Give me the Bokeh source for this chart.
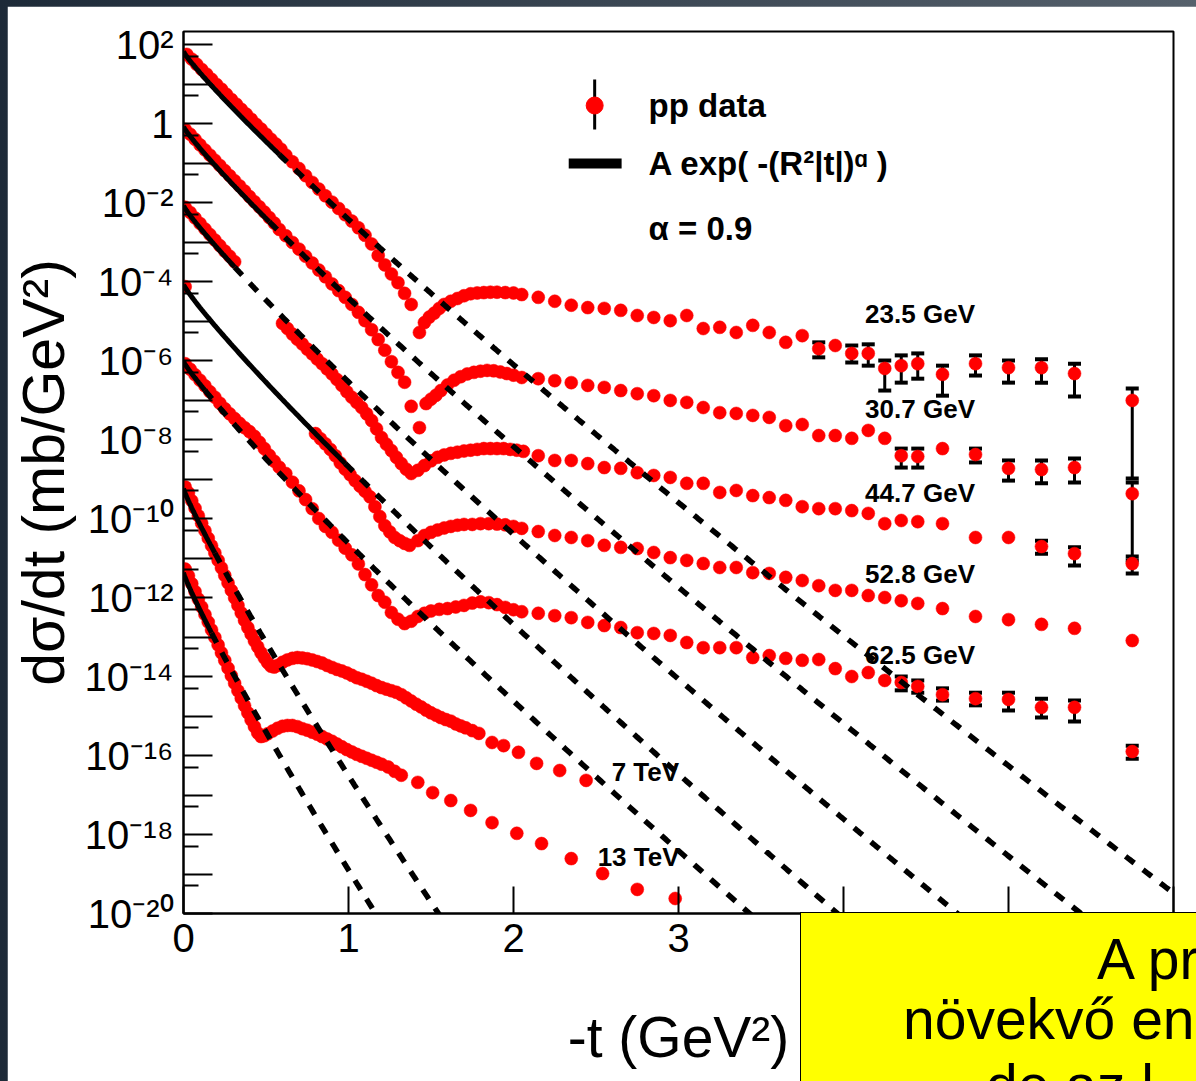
import numpy as np
from bokeh.plotting import figure
from bokeh.models import (ColumnDataSource, Range1d, FixedTicker, CustomJSTickFormatter,
                          Label, Whisker, TeeHead, Div)
from bokeh.layouts import column
from bokeh.embed import file_html
from bokeh.resources import INLINE

# ---------------------------------------------------------------------------
# pp elastic dσ/dt.  Every energy is shifted by a further factor 1e-2
# (ISR: 1, 1e-2, 1e-4, 1e-6, 1e-8; LHC: 1e-12, 1e-14).  Values are stored as
# log10 of the plotted (shifted) cross section in mb/GeV².
# ---------------------------------------------------------------------------
energy_labels = ["23.5 GeV", "30.7 GeV", "44.7 GeV", "52.8 GeV", "62.5 GeV", "7 TeV", "13 TeV"]

# large-|t| points shared by the five ISR energies
t_isr_tail = [2.15, 2.25, 2.35, 2.45, 2.55, 2.65, 2.75, 2.85, 2.95, 3.05, 3.15, 3.25, 3.35,
              3.45, 3.55, 3.65, 3.75, 3.85, 3.95, 4.05, 4.15, 4.25, 4.35, 4.45,
              4.6, 4.8, 5.0, 5.2, 5.4, 5.75]

# 23.5 GeV
t_235 = [0.02, 0.05, 0.08, 0.11, 0.14, 0.17, 0.20, 0.23, 0.26, 0.29, 0.32, 0.35, 0.38, 0.41,
         0.44, 0.47, 0.50, 0.53, 0.56, 0.59,
         0.62, 0.66, 0.70, 0.74, 0.78, 0.82, 0.86, 0.90, 0.94, 0.98, 1.02, 1.06, 1.10, 1.14,
         1.18, 1.22, 1.26, 1.30, 1.34, 1.38,
         1.43, 1.46, 1.49, 1.52, 1.55, 1.58, 1.62, 1.66, 1.70, 1.74, 1.78, 1.82, 1.86, 1.90,
         1.95, 2.00, 2.05]
lg_235 = [1.75, 1.63, 1.50, 1.37, 1.25, 1.12, 0.99, 0.87, 0.74, 0.61, 0.49, 0.36, 0.24, 0.11,
          -0.02, -0.14, -0.27, -0.40, -0.52, -0.65,
          -0.80, -0.97, -1.14, -1.32, -1.49, -1.66, -1.83, -1.99, -2.15, -2.31, -2.47, -2.64,
          -2.83, -3.05, -3.34, -3.58, -3.81, -4.03, -4.30, -4.58,
          -5.29, -5.04, -4.90, -4.80, -4.68, -4.58, -4.50, -4.43, -4.36, -4.31, -4.29, -4.28,
          -4.27, -4.27, -4.28, -4.29, -4.33]
lg_235_tail = [-4.40, -4.50, -4.60, -4.66, -4.68, -4.73, -4.86, -4.91, -4.99, -4.86, -5.19,
               -5.16, -5.29, -5.11, -5.29, -5.54, -5.37, -5.70, -5.62, -5.82, -5.82, -6.20,
               -6.13, -6.08, -6.35, -6.08, -6.18, -6.18, -6.33, -7.01]
err_t_235 = [3.85, 4.05, 4.15, 4.25, 4.35, 4.45, 4.6, 4.8, 5.0, 5.2, 5.4, 5.75]
err_lo_235 = [-5.92, -6.05, -6.13, -6.76, -6.56, -6.46, -6.89, -6.38, -6.56, -6.56, -6.91, -8.99]
err_hi_235 = [-5.54, -5.62, -5.59, -6.00, -5.87, -5.82, -6.13, -5.87, -6.00, -5.97, -6.08, -6.71]

# 30.7 GeV
t_307 = [0.01, 0.04, 0.07, 0.10, 0.13, 0.16, 0.19, 0.22, 0.25, 0.28, 0.31, 0.34, 0.37, 0.40,
         0.43, 0.46, 0.49, 0.52, 0.55, 0.58,
         0.62, 0.66, 0.70, 0.74, 0.78, 0.82, 0.86, 0.90, 0.94, 0.98, 1.02, 1.06, 1.10, 1.14,
         1.18, 1.22, 1.26, 1.30, 1.34,
         1.38, 1.43,
         1.47, 1.50, 1.53, 1.56, 1.60, 1.64, 1.68, 1.72, 1.76, 1.80, 1.84, 1.88, 1.92, 1.96,
         2.00, 2.05]
lg_307 = [-0.15, -0.27, -0.40, -0.54, -0.67, -0.80, -0.93, -1.06, -1.19, -1.32, -1.45, -1.58,
          -1.71, -1.85, -1.98, -2.11, -2.24, -2.38, -2.52, -2.68,
          -2.84, -3.01, -3.18, -3.36, -3.53, -3.71, -3.88, -4.06, -4.23, -4.40, -4.58, -4.78,
          -4.99, -5.22, -5.47, -5.74, -6.03, -6.30, -6.55,
          -7.16, -7.70,
          -7.09, -6.98, -6.88, -6.76, -6.62, -6.50, -6.41, -6.34, -6.30, -6.27, -6.25, -6.26,
          -6.29, -6.33, -6.37, -6.43]
lg_307_tail = [-6.46, -6.51, -6.56, -6.63, -6.68, -6.76, -6.84, -6.89, -7.01, -7.06, -7.19,
               -7.32, -7.34, -7.39, -7.44, -7.65, -7.62, -7.90, -7.90, -7.97, -7.77, -7.97,
               -8.41, -8.43, -8.23, -8.38, -8.73, -8.76, -8.71, -9.37]
err_t_307 = [4.35, 4.45, 4.8, 5.0, 5.2, 5.4, 5.75]
err_lo_307 = [-8.71, -8.71, -8.58, -9.04, -9.11, -9.09, -11.06]
err_hi_307 = [-8.23, -8.23, -8.23, -8.53, -8.53, -8.48, -9.09]

# 44.7 GeV
t_447 = [0.01, 0.04, 0.07, 0.10, 0.13, 0.16, 0.19, 0.22, 0.25, 0.28, 0.31,
         0.60, 0.63, 0.66, 0.69, 0.72, 0.75, 0.78, 0.81, 0.84, 0.87, 0.90, 0.93, 0.96, 0.99,
         1.02, 1.05, 1.08, 1.11, 1.14, 1.17, 1.20, 1.23, 1.26, 1.29, 1.32, 1.35, 1.38,
         1.42, 1.46, 1.50, 1.54, 1.58, 1.62, 1.66, 1.70, 1.74, 1.78, 1.82, 1.86, 1.90, 1.94,
         1.98, 2.02, 2.06]
lg_447 = [-2.12, -2.25, -2.39, -2.53, -2.67, -2.81, -2.95, -3.09, -3.23, -3.36, -3.50,
          -5.06, -5.19, -5.33, -5.46, -5.58, -5.71, -5.83, -5.96, -6.08, -6.21, -6.34, -6.48,
          -6.63, -6.79, -6.93, -7.06, -7.19, -7.35, -7.52, -7.73, -7.95, -8.12, -8.28, -8.45,
          -8.61, -8.75, -8.86,
          -8.78, -8.66, -8.54, -8.45, -8.39, -8.35, -8.32, -8.29, -8.27, -8.25, -8.23, -8.23,
          -8.23, -8.23, -8.25, -8.27, -8.30]
lg_447_tail = [-8.41, -8.53, -8.53, -8.61, -8.71, -8.73, -8.84, -8.91, -8.96, -9.11, -9.11,
               -9.34, -9.29, -9.42, -9.47, -9.54, -9.70, -9.75, -9.75, -9.80, -9.87, -10.13,
               -10.05, -10.08, -10.13, -10.48, -10.48, -10.71, -10.89, -11.14]
err_t_447 = [5.2, 5.4, 5.75]
err_lo_447 = [-10.89, -11.19, -11.39]
err_hi_447 = [-10.56, -10.73, -10.96]

# 52.8 GeV
t_528 = [0.01,
         0.80, 0.83, 0.86, 0.89, 0.92, 0.95, 0.98, 1.01, 1.04, 1.07, 1.10, 1.13, 1.16, 1.19,
         1.22, 1.25, 1.28, 1.31, 1.34, 1.37,
         1.42, 1.46, 1.50, 1.54, 1.58, 1.62, 1.66, 1.70, 1.75, 1.80, 1.85, 1.90, 1.95, 2.00,
         2.05]
lg_528 = [-4.13,
          -7.85, -7.98, -8.11, -8.25, -8.41, -8.59, -8.75, -8.89, -9.04, -9.18, -9.31, -9.45,
          -9.70, -9.95, -10.18, -10.34, -10.48, -10.56, -10.63, -10.68,
          -10.56, -10.43, -10.35, -10.29, -10.24, -10.20, -10.17, -10.15, -10.15, -10.13,
          -10.13, -10.14, -10.16, -10.20, -10.25]
lg_528_tail = [-10.33, -10.43, -10.48, -10.56, -10.68, -10.73, -10.76, -10.86, -10.99, -11.06,
               -11.14, -11.24, -11.24, -11.37, -11.39, -11.49, -11.57, -11.70, -11.82, -11.82,
               -11.95, -12.00, -12.08, -12.15, -12.28, -12.48, -12.56, -12.68, -12.78, -13.09]
err_t_528 = []
err_lo_528 = []
err_hi_528 = []

# 62.5 GeV
t_625 = [0.01, 0.04, 0.07, 0.10, 0.13, 0.16, 0.19, 0.22, 0.25, 0.28, 0.31, 0.34, 0.37, 0.40,
         0.43, 0.46, 0.49, 0.52, 0.55, 0.58,
         0.62, 0.66, 0.70, 0.74, 0.78, 0.82, 0.86, 0.90, 0.94, 0.98, 1.02, 1.06, 1.10, 1.14,
         1.18, 1.22, 1.26, 1.30, 1.34,
         1.38, 1.42, 1.46, 1.50, 1.55, 1.60, 1.65, 1.70, 1.75, 1.80, 1.85, 1.90, 1.95, 2.00,
         2.05]
lg_625 = [-6.08, -6.22, -6.36, -6.50, -6.64, -6.79, -6.93, -7.08, -7.22, -7.35, -7.47, -7.59,
          -7.70, -7.80, -7.92, -8.07, -8.23, -8.40, -8.55, -8.70,
          -8.86, -9.08, -9.30, -9.52, -9.75, -10.00, -10.20, -10.35, -10.55, -10.75, -10.92,
          -11.15, -11.42, -11.68, -11.95, -12.12, -12.38, -12.55, -12.66,
          -12.60, -12.48, -12.40, -12.34, -12.30, -12.28, -12.24, -12.20, -12.14, -12.11,
          -12.13, -12.18, -12.25, -12.31, -12.36]
lg_625_tail = [-12.40, -12.46, -12.51, -12.63, -12.71, -12.76, -12.89, -12.91, -12.96, -13.14,
               -13.27, -13.27, -13.27, -13.52, -13.47, -13.54, -13.59, -13.57, -13.80, -14.00,
               -13.90, -14.10, -14.15, -14.25, -14.46, -14.56, -14.58, -14.78, -14.78, -15.90]
err_t_625 = [4.35, 4.45, 4.6, 4.8, 5.0, 5.2, 5.4, 5.75]
err_lo_625 = [-14.35, -14.41, -14.61, -14.73, -14.86, -15.04, -15.14, -16.08]
err_hi_625 = [-14.00, -14.10, -14.30, -14.41, -14.41, -14.56, -14.61, -15.75]

# 7 TeV
t_7tev = [0.01, 0.03, 0.05, 0.07, 0.09, 0.11, 0.13, 0.15, 0.17, 0.19, 0.21, 0.23, 0.25, 0.27,
          0.29, 0.31, 0.33, 0.35, 0.37, 0.39, 0.41, 0.43, 0.45, 0.47, 0.49, 0.51, 0.53,
          0.55, 0.57,
          0.60, 0.63, 0.66, 0.69, 0.72, 0.75, 0.78, 0.81, 0.84, 0.87, 0.90, 0.93, 0.96, 0.99,
          1.02, 1.05, 1.08, 1.11, 1.14, 1.17, 1.20, 1.23, 1.26, 1.29, 1.32, 1.35, 1.38, 1.41,
          1.44, 1.47, 1.50, 1.53, 1.56, 1.59, 1.62, 1.65, 1.68, 1.71,
          1.75, 1.79, 1.87, 1.94, 2.03, 2.14, 2.28, 2.44]
lg_7tev = [-9.20, -9.35, -9.55, -9.74, -9.93, -10.12, -10.31, -10.50, -10.69, -10.87, -11.06,
           -11.25, -11.44, -11.63, -11.82, -12.01, -12.20, -12.39, -12.58, -12.76, -12.93,
           -13.10, -13.25, -13.40, -13.53, -13.65, -13.74,
           -13.76, -13.72,
           -13.64, -13.58, -13.54, -13.52, -13.53, -13.55, -13.58, -13.62, -13.66, -13.72,
           -13.77, -13.82, -13.86, -13.91, -13.97, -14.03, -14.07, -14.12, -14.17, -14.23,
           -14.28, -14.32, -14.36, -14.40, -14.46, -14.54, -14.62, -14.70, -14.77, -14.85,
           -14.92, -14.98, -15.04, -15.09, -15.13, -15.20, -15.25, -15.30,
           -15.37, -15.44, -15.67, -15.75, -15.92, -16.20, -16.38, -16.63]

# 13 TeV
t_13tev = [0.01, 0.03, 0.05, 0.07, 0.09, 0.11, 0.13, 0.15, 0.17, 0.19, 0.21, 0.23, 0.25, 0.27,
           0.29, 0.31, 0.33, 0.35, 0.37, 0.39, 0.41, 0.43, 0.45, 0.47,
           0.49, 0.51,
           0.54, 0.57, 0.60, 0.63, 0.66, 0.69, 0.72, 0.75, 0.78, 0.81, 0.84, 0.87, 0.90, 0.93,
           0.96, 0.99, 1.02, 1.05, 1.08, 1.11, 1.14, 1.17, 1.20,
           1.24, 1.28, 1.32,
           1.42, 1.51, 1.62, 1.74, 1.87, 2.02, 2.17, 2.35, 2.54, 2.75, 2.98]
lg_13tev = [-11.28, -11.45, -11.65, -11.85, -12.04, -12.24, -12.43, -12.62, -12.82, -13.01,
            -13.20, -13.40, -13.59, -13.79, -13.98, -14.17, -14.36, -14.55, -14.74, -14.92,
            -15.10, -15.27, -15.43, -15.52,
            -15.50, -15.45,
            -15.38, -15.31, -15.26, -15.24, -15.24, -15.27, -15.32, -15.36, -15.41, -15.46,
            -15.52, -15.58, -15.64, -15.71, -15.78, -15.85, -15.91, -15.97, -16.02, -16.07,
            -16.12, -16.17, -16.22,
            -16.29, -16.40, -16.50,
            -16.68, -16.94, -17.14, -17.39, -17.70, -17.97, -18.23, -18.61, -18.99, -19.39,
            -19.62]

# fits A exp(-(R² |t|)^alpha): A already shifted like the data, R² in GeV^-2,
# fitted up to t_fit_max (solid), extrapolated beyond (dotted)
alpha = 0.9
fit_A = [66.1, 0.832, 8.32e-3, 8.32e-5, 9.55e-7, 5.75e-10, 4.27e-12]
fit_R2 = [12.6, 12.9, 13.3, 13.8, 13.8, 22.9, 23.8]
fit_t_max = [0.58, 0.52, 0.31, 0.98, 0.13, 0.19, 0.17]

# axis ticks
x_ticks = [0, 1, 2, 3, 4, 5, 6]
y_decades = list(range(-20, 3))
y_label_exps = [-20, -18, -16, -14, -12, -10, -8, -6, -4, -2, 0, 2]
y_label_texts = ["10⁻²⁰", "10⁻¹⁸", "10⁻¹⁶", "10⁻¹⁴", "10⁻¹²", "10⁻¹⁰", "10⁻⁸", "10⁻⁶",
                 "10⁻⁴", "10⁻²", "1", "10²"]

# note lines of the yellow box (the box runs past the page edge)
note_lines = ["A pr", "növekvő en", "de az l"]

# ---------------------------------------------------------------------------
# page geometry (pixels) and plot ranges
# ---------------------------------------------------------------------------
PAGE_W, PAGE_H = 1196, 1081
EDGE_L, EDGE_T = 7, 6                      # dark slide edge
FRAME_L, FRAME_R, FRAME_T, FRAME_B = 181, 1173, 31, 913
X_LO, X_HI = 0.0, 6.0
LG_LO, LG_HI = -20.0, 2.33
FONT = "Liberation Sans"


def at(px, py):
    """Page pixel position -> (t, dσ/dt) in data coordinates."""
    t = X_LO + (px - FRAME_L) * (X_HI - X_LO) / (FRAME_R - FRAME_L)
    lg = LG_HI - (py - FRAME_T) * (LG_HI - LG_LO) / (FRAME_B - FRAME_T)
    return t, 10.0 ** lg


fig_w, fig_h = PAGE_W - EDGE_L, PAGE_H - EDGE_T
p = figure(width=fig_w, height=fig_h, title=None,
           x_range=Range1d(X_LO, X_HI), y_range=Range1d(10 ** LG_LO, 10 ** LG_HI),
           y_axis_type="log", output_backend="svg", toolbar_location=None,
           min_border_left=FRAME_L - EDGE_L, min_border_right=PAGE_W - FRAME_R,
           min_border_top=FRAME_T - EDGE_T, min_border_bottom=PAGE_H - FRAME_B,
           background_fill_color="white", border_fill_color="white")
p.margin = (EDGE_T, 0, 0, EDGE_L)
p.xgrid.visible = False
p.ygrid.visible = False
p.outline_line_color = "black"
p.outline_line_width = 2

xa, ya = p.xaxis[0], p.yaxis[0]
xa.ticker = FixedTicker(ticks=x_ticks, minor_ticks=[])
ya.ticker = FixedTicker(ticks=[10.0 ** k for k in y_decades],
                        minor_ticks=[5 * 10.0 ** (k - 1) for k in y_decades])
ya.formatter = CustomJSTickFormatter(args=dict(exps=y_label_exps, texts=y_label_texts), code="""
    const e = Math.round(Math.log10(tick));
    const i = exps.indexOf(e);
    return i < 0 ? "" : texts[i];
""")
for ax in (xa, ya):
    ax.axis_line_color = "black"
    ax.axis_line_width = 2
    ax.major_tick_line_color = "black"
    ax.minor_tick_line_color = "black"
    ax.major_tick_line_width = 2
    ax.minor_tick_line_width = 2
    ax.major_tick_out = 0
    ax.minor_tick_out = 0
    ax.major_label_text_font = FONT
    ax.major_label_text_font_size = "40px"
    ax.major_label_text_color = "black"
    ax.axis_label_text_font = FONT
    ax.axis_label_text_font_style = "normal"
    ax.axis_label_text_color = "black"
xa.major_tick_in = 27
ya.major_tick_in = 29
ya.minor_tick_in = 15
xa.major_label_standoff = 10
ya.major_label_standoff = 10
xa.axis_label = "-t (GeV²)"
ya.axis_label = "dσ/dt (mb/GeV²)"
xa.axis_label_text_font_size = "57px"
ya.axis_label_text_font_size = "59px"
xa.axis_label_standoff = 50
ya.axis_label_standoff = 5

# ---------------------------------------------------------------------------
# data points with error bars
# ---------------------------------------------------------------------------
series = [
    (t_235 + t_isr_tail, lg_235 + lg_235_tail, err_t_235, err_lo_235, err_hi_235),
    (t_307 + t_isr_tail, lg_307 + lg_307_tail, err_t_307, err_lo_307, err_hi_307),
    (t_447 + t_isr_tail, lg_447 + lg_447_tail, err_t_447, err_lo_447, err_hi_447),
    (t_528 + t_isr_tail, lg_528 + lg_528_tail, err_t_528, err_lo_528, err_hi_528),
    (t_625 + t_isr_tail, lg_625 + lg_625_tail, err_t_625, err_lo_625, err_hi_625),
    (t_7tev, lg_7tev, [], [], []),
    (t_13tev, lg_13tev, [], [], []),
]

RED = "#ff0000"
for t, lg, et, elo, ehi in series:
    if et:
        esrc = ColumnDataSource(dict(t=et, lo=10.0 ** np.array(elo), hi=10.0 ** np.array(ehi)))
        w = Whisker(source=esrc, base="t", lower="lo", upper="hi", dimension="height",
                    line_color="black", line_width=3, level="underlay",
                    lower_head=TeeHead(size=13, line_width=4, line_color="black"),
                    upper_head=TeeHead(size=13, line_width=4, line_color="black"))
        p.add_layout(w)
    src = ColumnDataSource(dict(t=t, y=10.0 ** np.array(lg)))
    p.scatter("t", "y", source=src, size=13, fill_color=RED, line_color=RED, line_width=0.5)

# fitted curves: solid over the fit range, dotted extrapolation
for A, R2, tmax in zip(fit_A, fit_R2, fit_t_max):
    ts = np.linspace(0.0, tmax, 80)
    td = np.linspace(tmax, 6.3, 600)
    p.line(ts, A * np.exp(-(R2 * ts) ** alpha), line_color="black", line_width=5)
    p.line(td, A * np.exp(-(R2 * td) ** alpha), line_color="black", line_width=5.5,
           line_dash="11 11")

# energy labels next to the curves
label_pos = [(864, 313), (864, 408), (864, 492), (864, 573), (864, 654), (610, 771), (596, 856)]
for text, (px, py) in zip(energy_labels, label_pos):
    x, y = at(px, py)
    p.add_layout(Label(x=x, y=y, text=text, text_font=FONT, text_font_size="26px",
                       text_font_style="bold", text_color="black", text_baseline="middle"))

# legend
dot_x, dot_y = at(593, 105)
bar_top, bar_bot = at(593, 79)[1], at(593, 129)[1]
p.segment(x0=[dot_x], y0=[bar_bot], x1=[dot_x], y1=[bar_top], line_color="black", line_width=3)
p.scatter([dot_x], [dot_y], size=17, fill_color=RED, line_color=RED)
lx0, ly = at(567, 163)
lx1, _ = at(620, 163)
p.segment(x0=[lx0], y0=[ly], x1=[lx1], y1=[ly], line_color="black", line_width=10)
legend_texts = [("pp data", 105), ("A exp( -(R²|t|)ᵅ )", 163), ("α = 0.9", 228)]
for text, py in legend_texts:
    x, y = at(647, py)
    p.add_layout(Label(x=x, y=y, text=text, text_font=FONT, text_font_size="33px",
                       text_font_style="bold", text_color="black", text_baseline="middle"))

# yellow note box over the lower right corner of the page
BOX_L, BOX_T = 800, 912
note_left = [296, 102, 985 - BOX_L]   # px from the box's left edge
note_top = [18, 78, 144]              # px from the box's top edge
spans = "".join(
    f'<span style="position:absolute;left:{lx}px;top:{ty}px;white-space:nowrap;'
    f'line-height:1;">{txt}</span>'
    for txt, lx, ty in zip(note_lines, note_left, note_top))
note = Div(text=(f'<div style="position:relative;width:{PAGE_W - BOX_L}px;'
                 f'height:{PAGE_H - BOX_T}px;overflow:hidden;font-family:\'{FONT}\';'
                 f'font-size:57px;color:black;">{spans}</div>'),
           width=PAGE_W - BOX_L, height=PAGE_H - BOX_T,
           styles={"position": "absolute", "left": f"{BOX_L}px", "top": f"{BOX_T}px",
                   "background": "#ffff00", "border-left": "1.5px solid black",
                   "border-top": "1.5px solid black", "box-sizing": "border-box",
                   "overflow": "hidden", "margin": "0", "padding": "0"})

page = column(p, note, width=PAGE_W, height=PAGE_H,
              styles={"background": "linear-gradient(90deg, #1d2a38 0%, #56616c 100%)",
                      "position": "relative", "overflow": "hidden"})

open("out.html", "w").write(file_html(page, INLINE))
